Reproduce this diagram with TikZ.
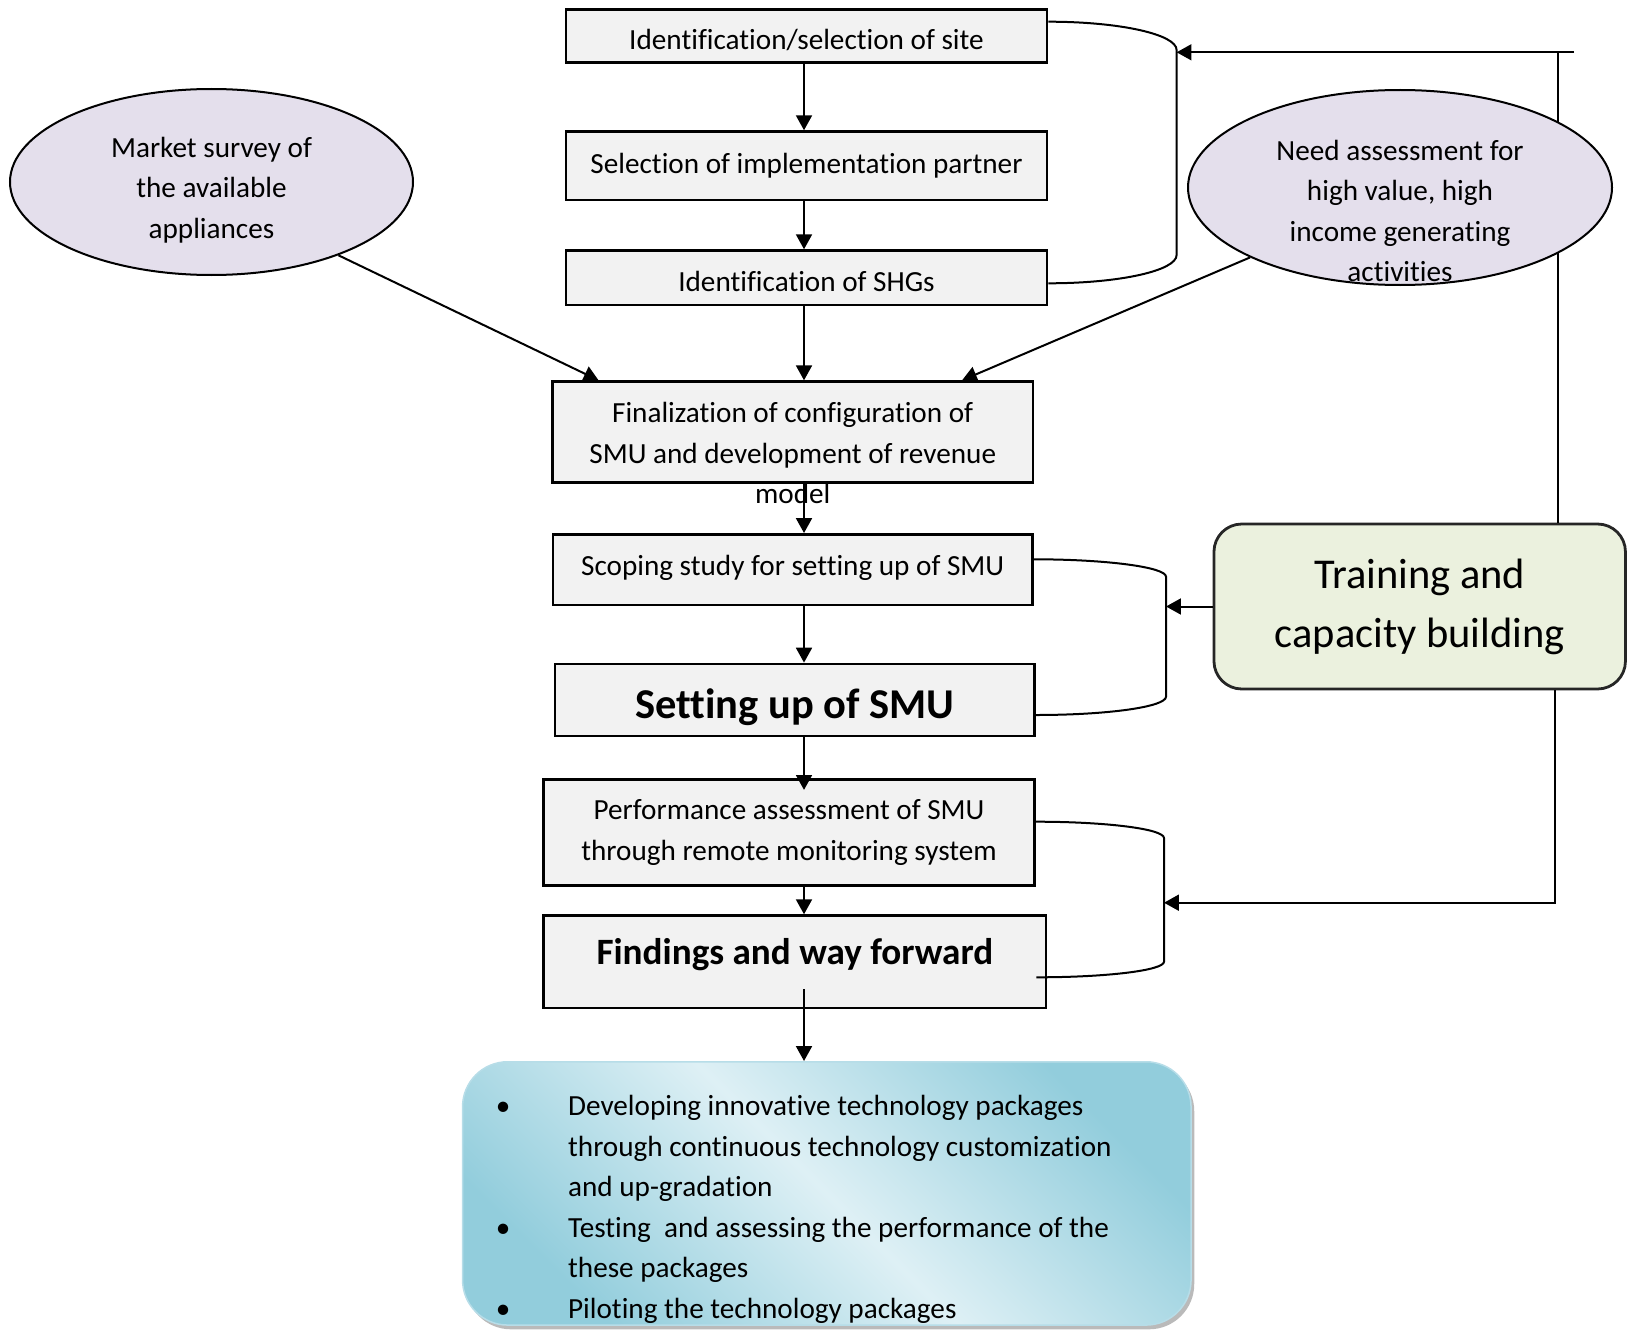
\documentclass[tikz,border=0pt]{standalone}
\usepackage{fontspec}
\setmainfont{Carlito}[Ligatures=NoCommon]
\usepackage{xcolor}
\usepackage{tikz}
\usetikzlibrary{arrows.meta}
\usetikzlibrary{calc}
\usetikzlibrary{shapes.geometric}
\usetikzlibrary{shadows}
\newlength\pix
\setlength\pix{0.3767pt}
\definecolor{boxgray}{HTML}{F2F2F2}
\definecolor{ovallilac}{HTML}{E4DFEC}
\definecolor{traingreen}{HTML}{EBF1DE}
\definecolor{packdark}{HTML}{92CDDC}
\definecolor{packlight}{HTML}{DEF0F5}
\definecolor{packedge}{HTML}{B7DDE8}
\newcommand\bodyfont{\fontsize{11}{15.26}\selectfont}
\newcommand\pitem{\makebox[0pt]{\textbullet}\hspace*{65.1\pix}}
\newcommand\pcont{\hspace*{65.1\pix}}
\tikzstyle{flowhead}=[>/.tip={Triangle[length=5.6pt,width=6pt]}]
\tikzstyle{link}=[line width=2\pix]
\tikzstyle{arr}=[line width=2\pix,flowhead,->]
\tikzstyle{stepbox}=[draw,line width=2.8\pix,fill=boxgray,inner sep=0pt,minimum width=481\pix,align=center,font=\bodyfont]
\tikzstyle{oval}=[ellipse,draw,line width=2\pix,fill=ovallilac,inner sep=0pt]
\tikzstyle{trainbox}=[draw=black!85,line width=2.8\pix,fill=traingreen,rounded corners=10.5pt,inner sep=0pt,align=center,font=\fontsize{16}{22.2}\selectfont]
\tikzstyle{packbox}=[draw=packedge,line width=1.5\pix,rounded corners=17pt,left color=packdark,right color=packdark,middle color=packlight,shading angle=135,drop shadow={shadow xshift=1.2pt,shadow yshift=-1.6pt,fill=black!45,opacity=.6}]

\begin{document}
\begin{tikzpicture}[x=0.3767pt,y=-0.3767pt]
	\useasboundingbox (0,0) rectangle (1627,1330);
	\coordinate (axis) at (804,0);
	\node[stepbox,minimum height=53.4\pix,text height=10.4pt,text depth=0pt] (site) at (806.5,36) {Identification/selection of site};
	\node[stepbox,minimum height=68.3\pix,text height=5.5pt,text depth=0pt] (partner) at (806.5,165.8) {Selection of implementation partner};
	\node[stepbox,minimum height=54.3\pix,text height=10.4pt,text depth=0pt] (shg) at (806.5,277.8) {Identification of SHGs};
	\node[stepbox,minimum width=480.5\pix,minimum height=101\pix] (config) at (792.7,432.2) {};
	\node[align=center,font=\bodyfont] (configtxt) at (792.7,453.4) {Finalization of configuration of\\SMU and development of revenue\\model};
	\node[stepbox,minimum width=479.4\pix,minimum height=70.6\pix,text height=4.7pt,text depth=0pt] (scoping) at (792.7,569.7) {Scoping study for setting up of SMU};
	\node[stepbox,minimum width=479.5\pix,minimum height=72\pix,text height=14.1pt,text depth=0pt,font=\fontsize{16}{22}\bfseries] (setup) at (794.8,700) {Setting up of SMU};
	\node[stepbox,minimum width=490.8\pix,minimum height=106.4\pix] (perf) at (789,832.5) {Performance assessment of SMU\\through remote monitoring system};
	\node[stepbox,minimum width=502.3\pix,minimum height=92.3\pix,text height=2.4pt,text depth=0pt,font=\fontsize{14}{19.4}\bfseries] (findings) at (794.8,961.8) {Findings and way forward};
	\node[packbox,minimum width=728.5\pix,minimum height=263.3\pix] (packages) at (826.8,1193.4) {};
	\node[anchor=west,align=left,inner sep=0pt,font=\bodyfont] (packtxt) at (502.5,1209.5) {\pitem Developing innovative technology packages\\\pcont through continuous technology customization\\\pcont and up-gradation\\\pitem Testing~ and assessing the performance of the\\\pcont these packages\\\pitem Piloting the technology packages};
	\node[trainbox,minimum width=411.5\pix,minimum height=165\pix] (training) at (1419.7,606.5) {Training and\\capacity building};
	\node[oval,minimum width=403\pix,minimum height=186\pix] (market) at (211.5,182) {};
	\node[align=center,font=\bodyfont] (markettxt) at (211.5,190) {Market survey of\\the available\\appliances};
	\coordinate (railend) at (1574,52.3);
	\coordinate (rail) at (1558,52.3);
	\coordinate (lowrail) at (1555,902.7);
	\draw[link] (training.north -| rail) -- (rail);
	\node[oval,minimum width=424\pix,minimum height=195\pix] (need) at (1400,187.5) {};
	\node[align=center,font=\bodyfont] (needtxt) at (1400,211) {Need assessment for\\high value, high\\income generating\\activities};
	\coordinate (sitebend) at (1176.6,50);
	\coordinate (shgbend) at (1176.6,255);
	\coordinate (scopingbend) at (1166,576.7);
	\coordinate (setupbend) at (1166,696.7);
	\coordinate (perfbend) at (1164,838);
	\coordinate (findingsbend) at (1164,961.7);
	\draw[arr] (site.south -| axis) -- (partner.north -| axis);
	\draw[arr] (partner.south -| axis) -- (shg.north -| axis);
	\draw[arr] (shg.south -| axis) -- (config.north -| axis);
	\draw[arr] (config.south -| axis) -- (scoping.north -| axis);
	\draw[arr] (scoping.south -| axis) -- (setup.north -| axis);
	\draw[arr,shorten >=-12\pix] (setup.south -| axis) -- (perf.north -| axis);
	\draw[arr] (perf.south -| axis) -- (findings.north -| axis);
	\draw[arr,shorten <=-20\pix] (findings.south -| axis) -- (packages.north -| axis);
	\draw[arr] (market.-30) -- ([xshift=47.5\pix]config.north west);
	\draw[arr] (need.205) -- ([xshift=-72.3\pix]config.north east);
	\draw[link] ([yshift=14.3\pix]site.east) .. controls +(71.6,0) and +(0,-15.6) .. (sitebend) -- (shgbend) .. controls +(0,15.6) and +(71.6,0) .. ([yshift=-5.5\pix]shg.east);
	\draw[link] ([yshift=10.4\pix]scoping.east) .. controls +(72.3,0) and +(0,-9.6) .. (scopingbend) -- (setupbend) .. controls +(0,10.1) and +(72.3,0) .. ([yshift=-15\pix]setup.east);
	\draw[link] ([yshift=10.8\pix]perf.east) .. controls +(71.2,0) and +(0,-9) .. (perfbend) -- (findingsbend) .. controls +(0,8.6) and +(71.2,0) .. ([xshift=-11\pix,yshift=-15.5\pix]findings.east);
	\draw[arr] (railend) -- (railend -| sitebend);
	\draw[arr] (training.west) -- (training.west -| scopingbend);
	\draw[arr] (training.south -| lowrail) |- (lowrail -| perfbend);
\end{tikzpicture}
\end{document}
